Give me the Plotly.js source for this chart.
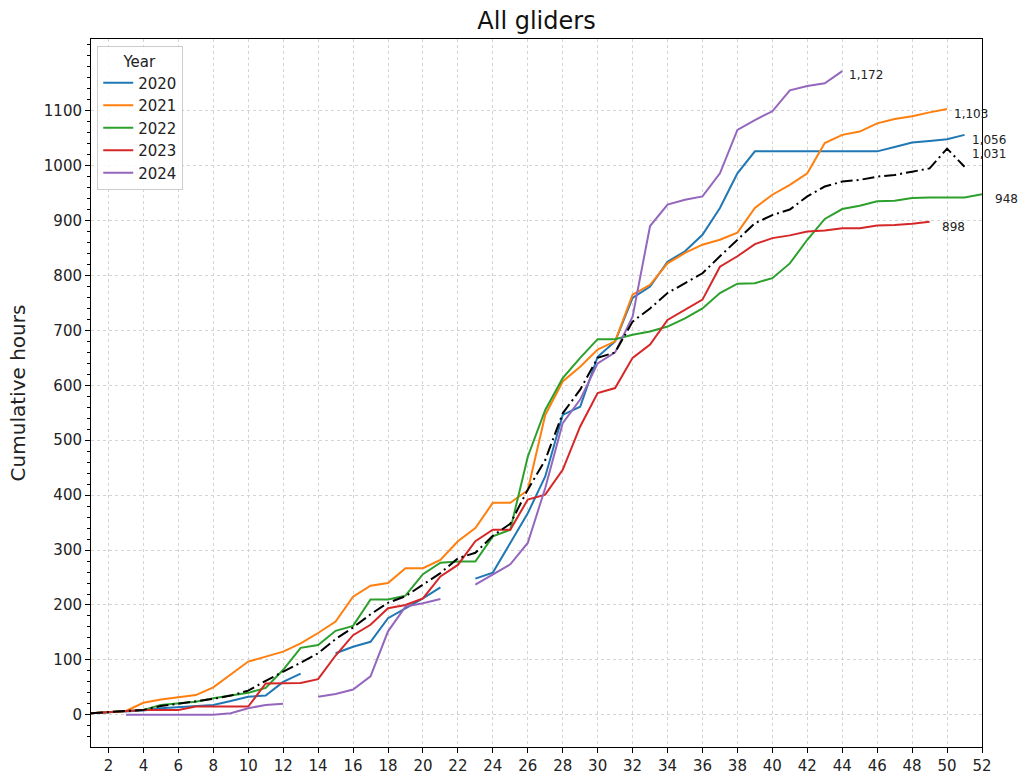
<!DOCTYPE html>
<html>
<head>
<meta charset="utf-8">
<script src="https://cdn.plot.ly/plotly-3.0.1.min.js"></script>
<style>
  html, body { margin: 0; padding: 0; background: #ffffff; }
  #chart { width: 1018px; height: 778px; }
</style>
</head>
<body>
<div id="chart"></div>
<script>
// Week numbers (x axis)
const weeks = [1,2,3,4,5,6,7,8,9,10,11,12,13,14,15,16,17,18,19,20,21,22,23,24,25,26,
               27,28,29,30,31,32,33,34,35,36,37,38,39,40,41,42,43,44,45,46,47,48,49,50,51,52];
const xTickVals = [2,4,6,8,10,12,14,16,18,20,22,24,26,28,30,32,34,36,38,40,42,44,46,48,50,52];
const yTickVals = [0,100,200,300,400,500,600,700,800,900,1000,1100];

// Cumulative hours per year (null = no data that week)
const hours2020 = [3,5,6,8,12,14,16,18,25,33,35,60,75,null,112,124,133,176,194,212,232,null,
                   248,259,313,367,434,546,561,652,680,759,780,825,844,874,923,986,1026,1026,
                   1026,1026,1026,1026,1026,1026,1034,1042,1045,1048,1056];
const hours2021 = [3,5,7,22,28,32,36,50,74,97,106,115,130,149,170,215,235,240,267,267,282,316,
                   340,386,386,409,546,607,634,665,680,765,783,822,841,856,865,878,923,947,
                   965,986,1041,1056,1062,1077,1085,1090,1097,1103];
const hours2022 = [3,5,6,9,18,21,24,30,35,40,49,82,122,127,153,162,210,210,217,256,277,279,
                   279,325,337,470,555,613,650,684,684,692,698,707,722,740,768,785,786,795,
                   822,865,903,921,927,935,936,941,942,942,942,948];
const hours2023 = [3,5,6,9,9,9,15,15,15,15,57,57,58,65,108,145,164,194,200,212,252,273,316,
                   337,337,392,401,446,525,586,595,650,674,719,738,756,816,835,857,868,873,
                   880,882,886,886,891,892,894,898];
const hours2024 = [null,null,0,0,0,0,0,0,3,12,18,20,null,33,38,46,70,152,197,203,211,null,
                   237,255,274,313,413,531,574,640,660,725,890,929,938,944,986,1065,1083,1099,
                   1137,1145,1150,1172];
const hoursMean = [3,5,6,9,16,20,24,29,35,44,62,78,95,112,138,159,183,204,216,237,258,285,
                   295,326,348,410,464,549,592,650,660,716,740,768,786,804,835,865,895,910,
                   920,944,962,971,974,980,983,989,995,1031,998];

const years = ['2020','2021','2022','2023','2024'];
const colors = ['#1f77b4','#ff7f0e','#2ca02c','#d62728','#9467bd'];
const seriesList = [hours2020, hours2021, hours2022, hours2023, hours2024];

const traces = seriesList.map((s, i) => ({
  x: weeks.slice(0, s.length),
  y: s,
  type: 'scatter',
  mode: 'lines',
  name: years[i],
  line: { color: colors[i], width: 2 },
  connectgaps: false
}));
traces.push({
  x: weeks.slice(0, hoursMean.length),
  y: hoursMean,
  type: 'scatter',
  mode: 'lines',
  name: 'Mean',
  showlegend: false,
  line: { color: '#000000', width: 2, dash: '12px,4px,2px,4px' }
});

function fmt(v) { return v.toLocaleString('en-US'); }
function lastIdx(s) { for (let i = s.length - 1; i >= 0; i--) if (s[i] !== null) return i; return -1; }

const labelShift = [[5,-5],[5,-5],[11,-5],[10,-5],[5,-4]];
const annotations = seriesList.map((s, i) => {
  const k = lastIdx(s);
  return {
    x: weeks[k], y: s[k], xref: 'x', yref: 'y',
    text: fmt(s[k]), showarrow: false, xanchor: 'left', yanchor: 'middle',
    xshift: labelShift[i][0], yshift: labelShift[i][1],
    font: { family: 'DejaVu Sans', size: 12, color: '#222222' }
  };
});
{
  const k = lastIdx(hoursMean);
  const mx = Math.max(...hoursMean);
  annotations.push({
    x: weeks[k], y: mx, xref: 'x', yref: 'y',
    text: fmt(mx), showarrow: false, xanchor: 'left', yanchor: 'middle',
    xshift: 5, yshift: -5,
    font: { family: 'DejaVu Sans', size: 12, color: '#222222' }
  });
}

const layout = {
  width: 1018, height: 778,
  margin: { l: 91, r: 36, t: 39, b: 31 },
  paper_bgcolor: '#ffffff', plot_bgcolor: '#ffffff',
  font: { family: 'DejaVu Sans', color: '#222222', size: 15 },
  title: {
    text: 'All gliders', x: 0.5, xref: 'paper', xanchor: 'center',
    y: 0.974, yref: 'container', yanchor: 'middle',
    font: { family: 'DejaVu Sans', size: 24, color: '#111111' }
  },
  xaxis: {
    range: [1, 52], tickmode: 'array', tickvals: xTickVals, ticktext: xTickVals.map(String),
    ticks: 'outside', ticklen: 5, tickcolor: '#000',
    showline: true, linecolor: '#000', linewidth: 1, mirror: true,
    showgrid: true, gridcolor: '#d4d4d4', griddash: 'dot', gridwidth: 1,
    zeroline: false,
    tickfont: { family: 'DejaVu Sans', size: 15, color: '#222222' }
  },
  yaxis: {
    range: [-58.6, 1230.6], tickmode: 'array', tickvals: yTickVals, ticktext: yTickVals.map(String),
    ticks: 'outside', ticklen: 5, tickcolor: '#000',
    minor: { tickmode: 'linear', tick0: 0, dtick: 20, ticks: 'outside', ticklen: 3, tickcolor: '#000', showgrid: false },
    showline: true, linecolor: '#000', linewidth: 1, mirror: true,
    showgrid: true, gridcolor: '#d4d4d4', griddash: 'dot', gridwidth: 1,
    zeroline: false,
    tickfont: { family: 'DejaVu Sans', size: 15, color: '#222222' },
    title: { text: 'Cumulative hours', standoff: 12,
             font: { family: 'DejaVu Sans', size: 20, color: '#222222' } }
  },
  legend: {
    x: 0.007, y: 0.99, xanchor: 'left', yanchor: 'top',
    bgcolor: 'rgba(255,255,255,0.85)', bordercolor: '#cccccc', borderwidth: 1,
    font: { family: 'DejaVu Sans', size: 15, color: '#222222' },
    title: { text: 'Year', side: 'top center', font: { family: 'DejaVu Sans', size: 15, color: '#222222' } },
    tracegroupgap: 0
  },
  annotations: annotations,
  showlegend: true
};

Plotly.newPlot('chart', traces, layout, { displayModeBar: false, staticPlot: true });
</script>
</body>
</html>
